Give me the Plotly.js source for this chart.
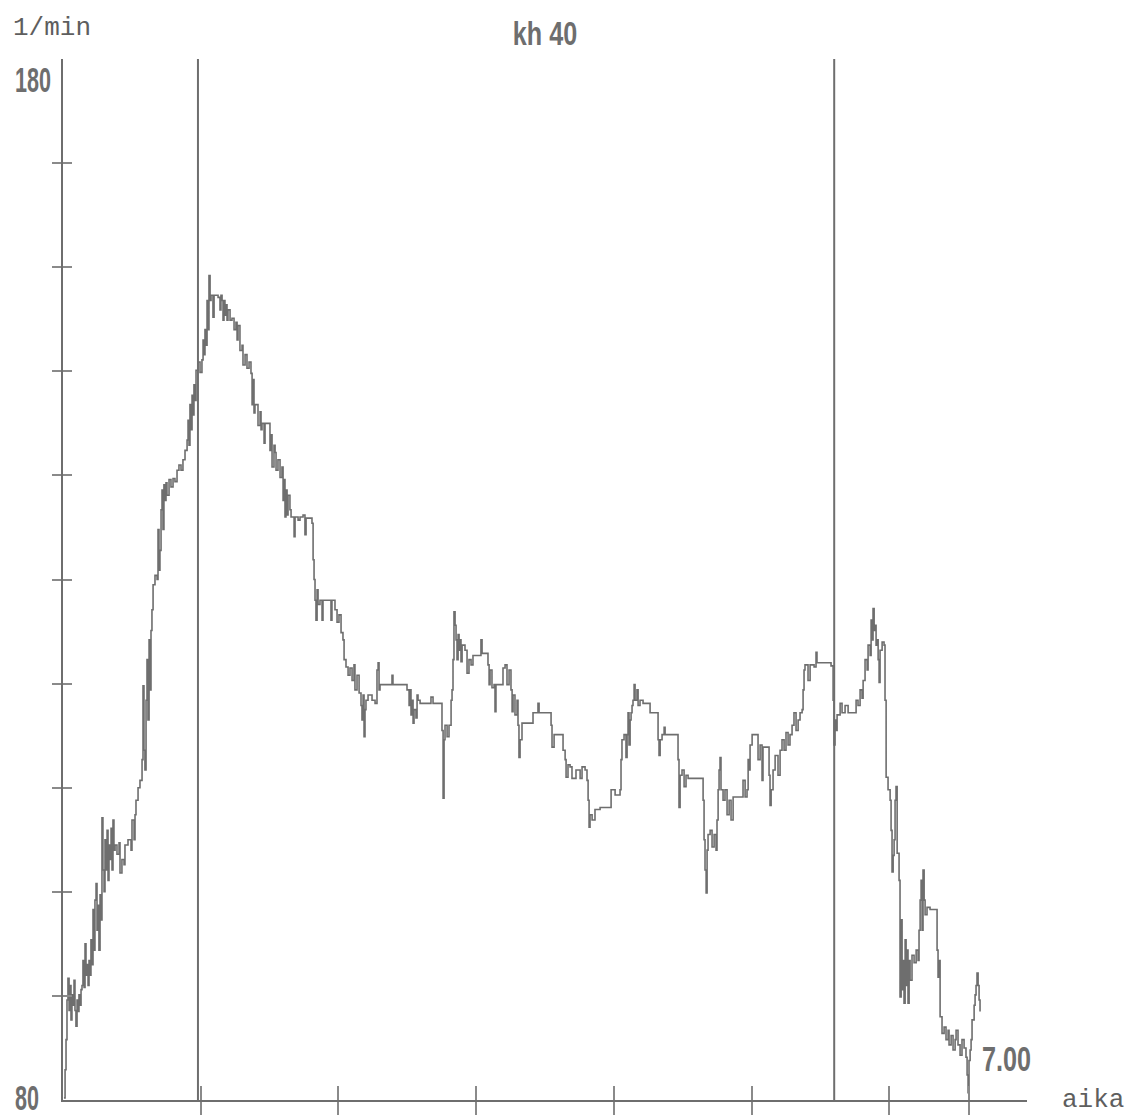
<!DOCTYPE html>
<html>
<head>
<meta charset="utf-8">
<script src="https://cdn.plot.ly/plotly-3.0.1.min.js"></script>
<style>
  html, body { margin: 0; padding: 0; background: #ffffff; }
  #chart { width: 1126px; height: 1115px; }
</style>
</head>
<body>
<div id="chart"></div>
<script>
// Heart rate recording "kh 40": time in minutes, rate in beats per minute.
const timeMin = [
  0.007,0.015,0.022,0.029,0.036,0.044,0.051,0.058,0.065,0.073,
  0.080,0.087,0.094,0.102,0.109,0.116,0.123,0.131,0.138,0.145,
  0.153,0.160,0.167,0.174,0.182,0.189,0.196,0.203,0.211,0.218,
  0.225,0.232,0.240,0.247,0.254,0.261,0.269,0.276,0.283,0.290,
  0.298,0.305,0.312,0.320,0.327,0.334,0.341,0.349,0.356,0.363,
  0.370,0.378,0.392,0.407,0.414,0.428,0.443,0.450,0.472,0.494,
  0.501,0.516,0.523,0.530,0.545,0.559,0.574,0.581,0.588,0.595,
  0.603,0.610,0.617,0.625,0.632,0.639,0.646,0.654,0.668,0.683,
  0.690,0.697,0.704,0.712,0.719,0.726,0.733,0.741,0.748,0.755,
  0.770,0.784,0.799,0.813,0.828,0.842,0.857,0.871,0.886,0.901,
  0.908,0.915,0.922,0.930,0.937,0.944,0.951,0.959,0.966,0.980,
  0.995,1.009,1.017,1.024,1.031,1.038,1.046,1.053,1.060,1.068,
  1.075,1.089,1.097,1.126,1.140,1.147,1.155,1.162,1.169,1.176,
  1.184,1.191,1.198,1.213,1.227,1.242,1.256,1.264,1.271,1.285,
  1.300,1.307,1.322,1.336,1.351,1.365,1.373,1.380,1.387,1.394,
  1.416,1.431,1.438,1.445,1.460,1.467,1.496,1.503,1.510,1.518,
  1.532,1.540,1.547,1.561,1.576,1.590,1.598,1.605,1.612,1.619,
  1.627,1.634,1.648,1.656,1.678,1.685,1.707,1.721,1.743,1.757,
  1.765,1.808,1.816,1.823,1.830,1.837,1.845,1.852,1.866,1.881,
  1.888,1.946,1.953,1.975,1.990,2.004,2.019,2.033,2.041,2.055,
  2.070,2.084,2.099,2.113,2.120,2.135,2.150,2.164,2.171,2.179,
  2.186,2.193,2.200,2.215,2.244,2.266,2.280,2.288,2.295,2.302,
  2.389,2.396,2.498,2.513,2.520,2.527,2.534,2.542,2.549,2.563,
  2.571,2.578,2.593,2.672,2.687,2.752,2.760,2.767,2.774,2.789,
  2.803,2.818,2.825,2.832,2.839,2.847,2.854,2.861,2.869,2.876,
  2.883,2.890,2.898,2.919,2.934,2.948,2.963,2.977,3.035,3.043,
  3.086,3.094,3.101,3.115,3.130,3.137,3.144,3.195,3.210,3.224,
  3.239,3.253,3.261,3.268,3.282,3.297,3.304,3.311,3.319,3.333,
  3.413,3.449,3.457,3.544,3.551,3.566,3.631,3.646,3.653,3.667,
  3.682,3.696,3.725,3.755,3.769,3.791,3.805,3.813,3.820,3.827,
  3.842,3.863,3.900,3.980,4.009,4.045,4.052,4.059,4.074,4.088,
  4.096,4.103,4.110,4.118,4.125,4.132,4.139,4.147,4.154,4.168,
  4.176,4.190,4.212,4.263,4.321,4.328,4.336,4.350,4.365,4.372,
  4.466,4.473,4.481,4.495,4.510,4.524,4.539,4.648,4.655,4.662,
  4.670,4.677,4.684,4.699,4.713,4.728,4.742,4.749,4.757,4.764,
  4.771,4.778,4.793,4.807,4.822,4.837,4.851,4.866,4.938,4.953,
  4.967,4.975,4.982,4.989,5.004,5.047,5.062,5.076,5.083,5.127,
  5.134,5.142,5.156,5.171,5.192,5.207,5.221,5.236,5.250,5.265,
  5.279,5.294,5.308,5.323,5.338,5.352,5.367,5.374,5.381,5.388,
  5.410,5.425,5.454,5.468,5.475,5.577,5.592,5.599,5.606,5.614,
  5.621,5.643,5.657,5.679,5.701,5.759,5.773,5.788,5.802,5.810,
  5.824,5.839,5.846,5.861,5.868,5.875,5.882,5.890,5.897,5.904,
  5.911,5.919,5.926,5.933,5.948,5.962,5.969,5.977,5.991,6.006,
  6.013,6.020,6.028,6.035,6.042,6.049,6.057,6.071,6.078,6.086,
  6.093,6.100,6.107,6.115,6.122,6.129,6.136,6.144,6.151,6.165,
  6.180,6.195,6.209,6.216,6.224,6.231,6.238,6.245,6.253,6.260,
  6.274,6.296,6.347,6.354,6.362,6.369,6.383,6.398,6.412,6.427,
  6.434,6.449,6.463,6.478,6.485,6.499,6.514,6.528,6.543,6.557,
  6.565,6.572,6.579,6.587,6.594,6.601,6.616,6.623,6.630,6.637,
  6.645,6.652,6.659
];

const heartRate = [
  80.2,82.9,85.8,89.6,91.7,88.6,91.0,87.7,90.1,89.1,
  91.5,88.6,87.1,89.6,88.5,90.1,89.1,90.6,91.0,93.4,
  90.8,95.0,92.0,93.0,91.0,93.4,92.0,95.4,93.0,98.3,
  94.4,99.2,100.8,96.3,98.7,94.4,99.7,97.3,107.1,102.1,
  100.0,105.0,102.1,105.9,101.1,104.5,103.1,106.1,102.1,106.9,
  104.0,104.5,103.6,104.7,101.8,103.1,102.6,104.5,105.0,104.0,
  106.9,105.0,107.4,108.8,110.0,110.7,112.7,119.8,113.6,111.7,
  118.4,122.3,116.5,124.2,119.4,125.1,127.1,129.5,130.4,130.0,
  134.8,130.9,132.8,136.7,138.6,134.8,139.1,137.6,139.3,138.1,
  139.6,138.9,139.7,139.4,140.5,141.0,140.5,141.5,142.4,143.4,
  145.3,142.9,146.8,144.4,147.7,145.8,148.7,147.2,150.1,150.9,
  149.9,151.1,153.0,151.6,154.0,152.5,156.8,154.0,159.2,156.8,
  157.3,155.2,157.3,157.1,155.9,157.3,156.8,154.9,156.8,155.4,
  156.4,154.9,155.9,154.9,155.1,154.0,154.7,153.0,154.4,152.0,
  152.5,150.6,151.6,150.3,150.9,149.8,146.8,149.2,146.0,146.8,
  144.8,146.1,144.4,145.0,143.1,145.0,145.0,142.4,143.9,140.8,
  142.9,142.2,140.5,141.5,139.8,140.8,137.6,139.6,136.0,138.6,
  136.2,138.1,136.7,136.0,134.1,136.0,135.7,136.0,136.2,134.3,
  135.9,135.4,131.9,130.0,128.0,126.1,129.0,127.6,128.0,126.1,
  128.0,126.1,128.0,127.1,125.9,126.6,124.9,124.2,122.3,121.6,
  120.8,121.5,120.3,121.8,119.4,120.8,119.1,117.9,116.5,118.9,
  114.9,117.5,118.4,118.9,118.4,118.1,121.3,122.0,119.4,119.9,
  120.8,119.9,119.4,117.9,119.4,117.0,118.4,116.2,117.5,116.7,
  118.9,118.4,118.1,118.7,118.1,115.5,109.0,114.6,116.0,114.9,
  116.0,118.4,119.4,122.3,126.9,125.6,124.2,122.3,124.7,123.2,
  124.2,122.1,123.7,123.2,121.0,122.3,121.8,122.7,124.2,122.9,
  121.8,119.9,121.3,119.6,119.9,117.3,119.9,121.5,121.8,119.9,
  121.3,119.4,117.3,118.9,117.0,118.4,116.0,112.9,114.6,116.2,
  117.2,118.1,117.2,116.0,113.9,115.1,113.6,112.7,111.0,112.2,
  112.0,110.9,111.7,110.9,112.0,111.7,110.7,108.8,106.2,107.4,
  106.9,107.9,108.1,109.8,109.3,109.8,112.7,114.6,115.1,112.9,
  115.1,117.2,114.1,116.5,117.2,117.9,118.4,119.9,118.4,119.4,
  117.9,118.4,118.1,117.2,114.6,113.1,114.6,115.1,115.8,115.1,
  112.7,108.1,111.2,111.7,110.1,111.2,110.9,108.8,105.0,102.1,
  99.9,104.0,105.5,105.9,104.3,105.5,104.0,106.9,109.8,111.7,
  112.9,109.8,108.8,109.8,107.4,108.8,106.9,109.1,110.7,109.1,
  109.8,112.7,111.7,114.1,115.1,112.7,114.1,110.7,113.9,111.2,
  108.3,109.8,111.7,113.1,111.2,113.6,114.6,113.6,115.3,114.1,
  115.1,116.0,117.2,115.5,116.5,117.2,117.5,119.4,121.3,121.8,
  120.3,121.8,121.6,123.0,122.0,121.7,118.4,114.1,116.5,115.5,
  117.0,118.1,117.2,117.9,117.2,118.4,117.9,119.4,118.6,120.3,
  122.3,121.3,123.7,122.7,126.1,124.2,127.2,125.1,125.6,123.7,
  124.2,122.3,120.1,123.2,124.0,123.7,118.4,111.0,109.8,108.8,
  105.9,101.9,103.5,105.0,108.8,110.1,103.7,101.1,89.9,97.3,
  90.6,93.4,89.3,95.4,91.0,94.4,89.3,93.4,91.5,93.9,
  93.2,94.4,93.4,96.3,99.2,101.1,96.3,102.1,99.2,97.8,
  98.5,98.3,94.4,91.8,93.4,88.0,86.4,87.0,85.8,86.7,
  85.3,86.2,84.8,85.8,86.7,85.3,84.3,85.8,85.0,84.1,
  82.4,80.7,83.8,84.8,85.8,87.7,89.1,90.1,91.0,92.2,
  91.0,89.6,88.5
];

// Axis setup
const timeRange = [0, 7.0];
const rateRange = [80, 180];
const minuteTicks = [1, 2, 3, 4, 5, 6];
const recordingEnd = 6.58;
const rateTicks = [90, 100, 110, 120, 130, 140, 150, 160, 170];
const rateEndLabels = ['180', '80'];
const rateEndValues = [180, 80];
const phaseMarks = [0.98, 5.60];
const durationLabel = '7.00';
const durationLabelRate = 84.0;

const ink = '#6e6e6e';
const narrowFont = '"Liberation Sans", Arial, sans-serif';
const monoFont = '"Liberation Mono", "DejaVu Sans Mono", monospace';

const xTickVals = minuteTicks.concat([recordingEnd]);

const traces = [
  {
    type: 'scatter',
    mode: 'lines',
    x: timeMin,
    y: heartRate,
    line: { shape: 'hv', color: ink, width: 1.6 },
    hoverinfo: 'skip',
    showlegend: false
  },
  {
    // carries the mirrored tick marks that cross both axes
    type: 'scatter',
    mode: 'lines',
    x: [],
    y: [],
    xaxis: 'x2',
    yaxis: 'y2',
    hoverinfo: 'skip',
    showlegend: false
  }
];

const baseAxis = {
  showgrid: false,
  zeroline: false,
  showticklabels: false,
  fixedrange: true,
  tickcolor: '#8a8a8a',
  tickwidth: 2
};

const annotations = rateEndLabels.map((label, i) => ({
  text: label,
  xref: 'paper',
  x: -0.052,
  xanchor: 'left',
  yref: 'y',
  y: rateEndValues[i],
  yanchor: i === 0 ? 'top' : 'middle',
  yshift: i === 0 ? 2 : 3,
  showarrow: false,
  font: { family: narrowFont, size: 36, weight: 'bold', color: ink }
}));

annotations.push(
  {
    text: '1/min',
    xref: 'paper', x: -0.054, xanchor: 'left',
    yref: 'paper', y: 1.03, yanchor: 'middle',
    showarrow: false,
    font: { family: monoFont, size: 26, color: '#5e5e5e' }
  },
  {
    text: 'aika',
    xref: 'paper', x: 1.034, xanchor: 'left',
    yref: 'y', y: rateRange[0], yanchor: 'middle',
    showarrow: false,
    font: { family: monoFont, size: 26, color: '#5e5e5e' }
  },
  {
    text: durationLabel,
    xref: 'x', x: timeMin[timeMin.length - 1], xanchor: 'left',
    yref: 'y', y: durationLabelRate, yanchor: 'middle',
    showarrow: false,
    font: { family: narrowFont, size: 36, weight: 'bold', color: ink }
  }
);

const shapes = phaseMarks.map(t => ({
  type: 'line',
  xref: 'x', yref: 'y',
  x0: t, x1: t,
  y0: rateRange[0], y1: rateRange[1],
  line: { color: ink, width: 2 }
}));

const layout = {
  width: 1126,
  height: 1115,
  margin: { l: 63, r: 99, t: 59, b: 15 },
  paper_bgcolor: '#ffffff',
  plot_bgcolor: '#ffffff',
  title: {
    text: 'kh 40',
    xref: 'paper', x: 0.5, xanchor: 'center',
    yref: 'container', y: 0.970, yanchor: 'middle',
    font: { family: narrowFont, size: 34, weight: 'bold', color: ink }
  },
  xaxis: Object.assign({}, baseAxis, {
    range: timeRange,
    showline: true, linecolor: ink, linewidth: 2,
    ticks: 'outside', ticklen: 13,
    tickmode: 'array', tickvals: xTickVals
  }),
  xaxis2: Object.assign({}, baseAxis, {
    range: timeRange,
    overlaying: 'x', anchor: 'y', side: 'bottom',
    showline: false,
    ticks: 'inside', ticklen: 14,
    tickmode: 'array', tickvals: xTickVals
  }),
  yaxis: Object.assign({}, baseAxis, {
    range: rateRange,
    showline: true, linecolor: ink, linewidth: 2,
    ticks: 'outside', ticklen: 9,
    tickmode: 'array', tickvals: rateTicks
  }),
  yaxis2: Object.assign({}, baseAxis, {
    range: rateRange,
    overlaying: 'y', anchor: 'x', side: 'left',
    showline: false,
    ticks: 'inside', ticklen: 9,
    tickmode: 'array', tickvals: rateTicks
  }),
  shapes: shapes,
  annotations: annotations,
  showlegend: false
};

// Narrow the tall label digits horizontally, keeping each label's anchor edge fixed.
const narrowing = {
  '180': { scale: 0.6, anchor: 'left' },
  '80': { scale: 0.6, anchor: 'left' },
  '7.00': { scale: 0.7, anchor: 'left' },
  'kh 40': { scale: 0.74, anchor: 'center' }
};

function narrowText(el, scale, anchor) {
  const bb = el.getBBox();
  const ax = anchor === 'left' ? bb.x : bb.x + bb.width / 2;
  const prev = el.getAttribute('transform') || '';
  el.setAttribute('transform',
    (prev + ' translate(' + ax + ',0) scale(' + scale + ',1) translate(' + (-ax) + ',0)').trim());
}

Plotly.newPlot('chart', traces, layout, { staticPlot: true, displayModeBar: false }).then(gd => {
  gd.querySelectorAll('text.annotation-text, text.gtitle').forEach(el => {
    const rule = narrowing[el.textContent.trim()];
    if (rule) narrowText(el, rule.scale, rule.anchor);
  });
});
</script>
</body>
</html>
